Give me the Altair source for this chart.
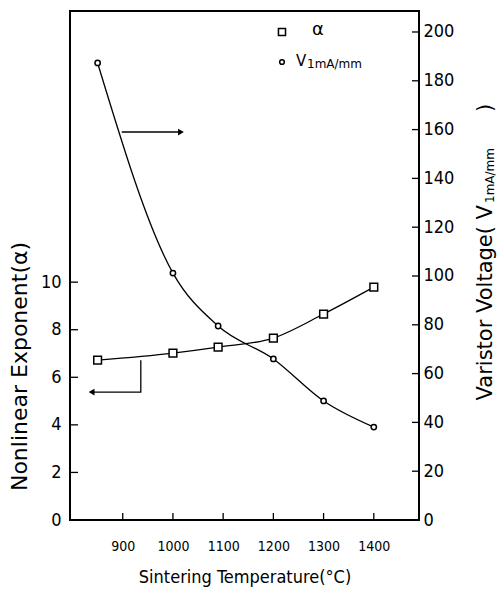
import altair as alt
import pandas as pd

# ---- data ----
temps = [850, 1000, 1090, 1200, 1300, 1400]
alpha = [6.72, 7.02, 7.27, 7.65, 8.66, 9.79]
voltage = [187.3, 101.2, 79.5, 66.0, 48.8, 38.1]

temp_ticks = [900, 1000, 1100, 1200, 1300, 1400]
alpha_ticks = [0, 2, 4, 6, 8, 10]
volt_ticks = [0, 20, 40, 60, 80, 100, 120, 140, 160, 180, 200]

# annotation arrows in data units
arrow_v_x = [898, 1016]          # points to right axis
arrow_v_y = [159, 159]
arrow_a_x = [936, 936, 838]      # points to left axis
arrow_a_y = [6.72, 5.38, 5.38]

FONT = "DejaVu Sans Condensed, Liberation Sans Narrow, DejaVu Sans"
WIDE = "DejaVu Sans"
W, H = 349, 509

xs = alt.Scale(domain=[795, 1490], nice=False)
ya = alt.Scale(domain=[0, 21.4], nice=False)
yv = alt.Scale(domain=[0, 208.6], nice=False)

df_a = pd.DataFrame({"x": temps, "y": alpha})
df_v = pd.DataFrame({"x": temps, "y": voltage})
one = pd.DataFrame({"k": [0]})

x_axis = alt.Axis(values=temp_ticks, format="d", ticks=False, tickSize=0, domain=False, grid=False,
                  labelFontSize=14, labelPadding=19, labelColor="black", labelFont=FONT,
                  title="Sintering Temperature(°C)", titleFontSize=18, titleFontWeight="normal",
                  titleFont=FONT, titleColor="black", titleY=57, titleBaseline="middle")
a_axis = alt.Axis(orient="left", values=alpha_ticks, ticks=False, tickSize=0, domain=False, grid=False,
                  labelFontSize=18, labelPadding=9, labelColor="black", labelFont=FONT,
                  title="Nonlinear Exponent(α)", titleFontSize=22, titleFontWeight="normal",
                  titleFont=WIDE, titleColor="black", titleX=-51, titleY=355, titleAngle=270,
                  titleAlign="center", titleBaseline="middle")
v_axis = alt.Axis(orient="right", values=volt_ticks, ticks=False, tickSize=0, domain=False, grid=False,
                  labelFontSize=18, labelPadding=4, labelColor="black", labelFont=FONT, title=None)

X = alt.X("x:Q", scale=xs)
YA = alt.Y("y:Q", scale=ya)
YV = alt.Y("y:Q", scale=yv)

# ---- alpha (left axis) layer ----
a_line = alt.Chart(df_a).mark_line(interpolate="monotone", color="black", strokeWidth=1.3).encode(
    x=alt.X("x:Q", scale=xs, axis=x_axis),
    y=alt.Y("y:Q", scale=ya, axis=a_axis),
)
a_pts = alt.Chart(df_a).mark_point(shape="square", size=60, filled=True, fill="white",
                                   stroke="black", strokeWidth=1.5, opacity=1).encode(x=X, y=YA)
a_ticks = alt.Chart(pd.DataFrame({"y": alpha_ticks})).mark_rule(color="black", strokeWidth=1.3).encode(
    y=YA, x=alt.value(0), x2=alt.value(8))
x_ticks = alt.Chart(pd.DataFrame({"x": temp_ticks})).mark_rule(color="black", strokeWidth=1.3).encode(
    x=X, y=alt.value(H), y2=alt.value(H - 7))
a_arrow = alt.Chart(pd.DataFrame({"x": arrow_a_x, "y": arrow_a_y, "i": [0, 1, 2]})).mark_line(
    color="black", strokeWidth=1.3).encode(x=X, y=YA, order="i:O")
a_head = alt.Chart(pd.DataFrame({"x": arrow_a_x[-1:], "y": arrow_a_y[-1:]})).mark_point(
    shape="triangle-left", filled=True, color="black", size=45, opacity=1).encode(x=X, y=YA)

# legend
leg_sq = alt.Chart(one).mark_point(shape="square", size=50, filled=True, fill="white", stroke="black",
                                   strokeWidth=1.5, opacity=1).encode(x=alt.value(212), y=alt.value(21))
leg_a = alt.Chart(one).mark_text(text="α", font=WIDE, fontSize=18, align="left",
                                 baseline="middle", color="black").encode(x=alt.value(242), y=alt.value(19))
leg_ci = alt.Chart(one).mark_point(shape="circle", size=22, filled=True, fill="white", stroke="black",
                                   strokeWidth=1.5, opacity=1).encode(x=alt.value(212), y=alt.value(51))
leg_v = alt.Chart(one).mark_text(text="V", font=WIDE, fontSize=15, align="left",
                                 baseline="middle", color="black").encode(x=alt.value(226), y=alt.value(50))
leg_sub = alt.Chart(one).mark_text(text="1mA/mm", font=WIDE, fontSize=12, align="left",
                                   baseline="middle", color="black").encode(x=alt.value(237), y=alt.value(53))

alpha_layer = alt.layer(a_line, a_ticks, x_ticks, a_arrow, a_head, a_pts,
                        leg_sq, leg_a, leg_ci, leg_v, leg_sub)

# ---- voltage (right axis) layer ----
v_line = alt.Chart(df_v).mark_line(interpolate="monotone", color="black", strokeWidth=1.3).encode(
    x=X, y=alt.Y("y:Q", scale=yv, axis=v_axis),
)
v_pts = alt.Chart(df_v).mark_point(shape="circle", size=28, filled=True, fill="white",
                                   stroke="black", strokeWidth=1.5, opacity=1).encode(x=X, y=YV)
v_ticks = alt.Chart(pd.DataFrame({"y": volt_ticks})).mark_rule(color="black", strokeWidth=1.3).encode(
    y=YV, x=alt.value(W - 7), x2=alt.value(W))
v_arrow = alt.Chart(pd.DataFrame({"x": arrow_v_x, "y": arrow_v_y})).mark_line(
    color="black", strokeWidth=1.5).encode(x=X, y=YV)
v_head = alt.Chart(pd.DataFrame({"x": arrow_v_x[-1:], "y": arrow_v_y[-1:]})).mark_point(
    shape="triangle-right", filled=True, color="black", size=45, opacity=1).encode(x=X, y=YV)

# right axis title with subscript
rt_main = alt.Chart(one).mark_text(text="Varistor Voltage( V", font=WIDE, fontSize=21, angle=270,
                                   align="right", baseline="middle", color="black").encode(
    x=alt.value(416), y=alt.value(194))
rt_sub = alt.Chart(one).mark_text(text="1mA/mm", font=WIDE, fontSize=12, angle=270,
                                  align="left", baseline="middle", dy=4, color="black").encode(
    x=alt.value(416), y=alt.value(192))
rt_end = alt.Chart(one).mark_text(text=")", font=WIDE, fontSize=21, angle=270,
                                  align="center", baseline="middle", color="black").encode(
    x=alt.value(416), y=alt.value(97))

volt_layer = alt.layer(v_line, v_ticks, v_arrow, v_head, v_pts, rt_main, rt_sub, rt_end)

chart = alt.layer(alpha_layer, volt_layer).resolve_scale(y="independent").properties(
    width=W, height=H,
    autosize=alt.AutoSizeParams(type="none"),
    padding={"left": 70, "top": 11, "right": 78, "bottom": 71},
    background="white",
).configure(font=FONT).configure_view(stroke="black", strokeWidth=2)

chart.save("out.html", embed_options={"renderer": "svg", "actions": False})
